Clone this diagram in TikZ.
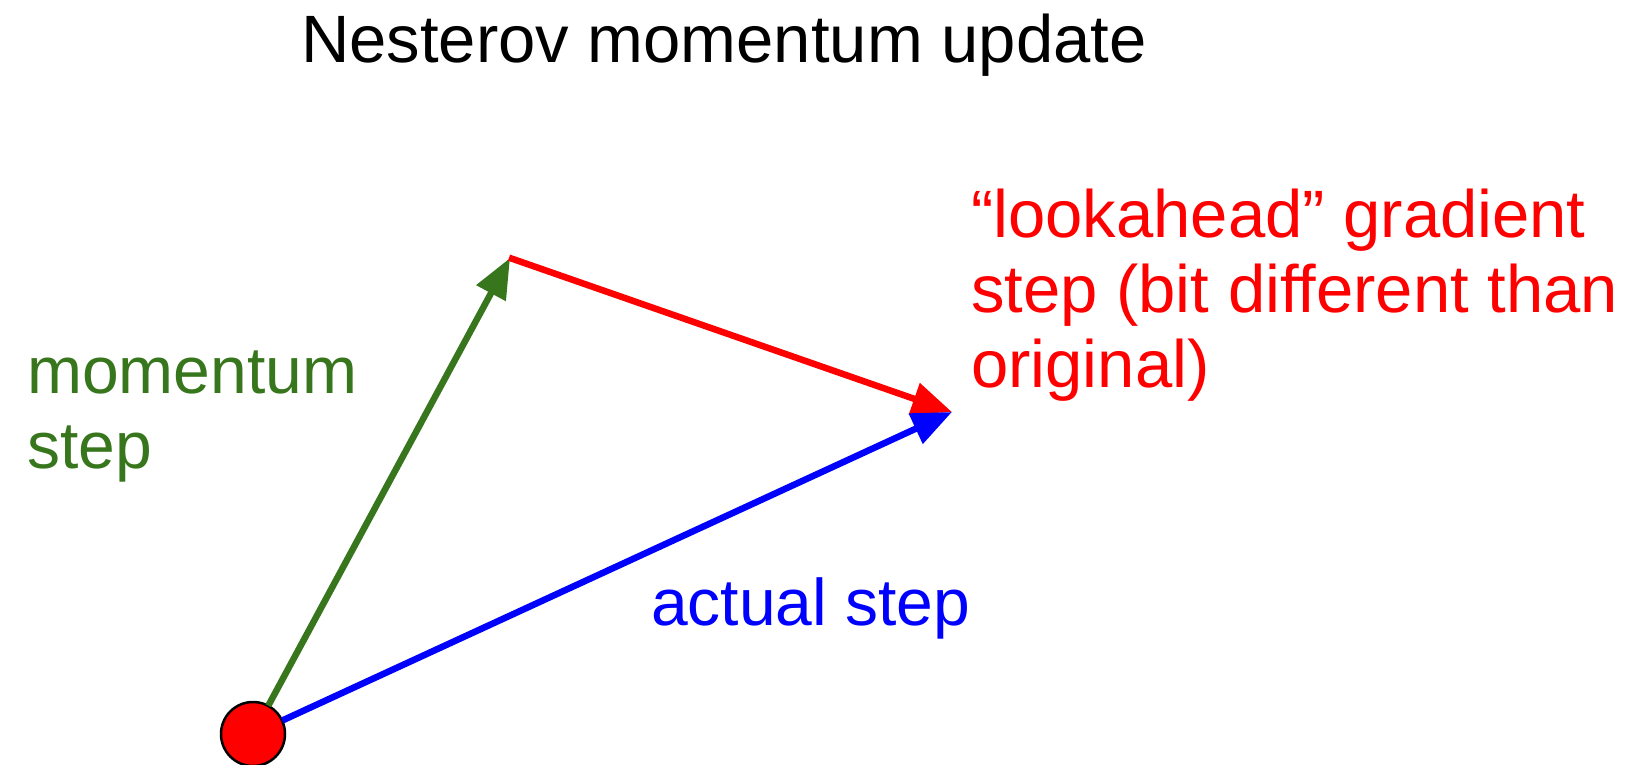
\documentclass[tikz,border=0pt]{standalone}
\usepackage{fontspec}
\setmainfont{Liberation Sans}
\usetikzlibrary{arrows.meta}
\definecolor{mgreen}{RGB}{56,118,29}
\begin{document}
\begin{tikzpicture}[x=1pt,y=-1pt,
  vec/.style={line width=6.5pt,-{Triangle[length=40pt,width=32pt]}, shorten <=-1pt},
  lbl/.style={inner sep=0pt,anchor=base west,align=left,font=\fontsize{66}{75}\selectfont},
  ttl/.style={inner sep=0pt,anchor=base west,font=\fontsize{67}{75}\selectfont}]
\useasboundingbox (0,0) rectangle (1644,765);
\fill[white] (0,0) rectangle (1644,765);
% points
\node[circle,draw=black,line width=2.5pt,fill=red,minimum size=64pt,inner sep=0pt] (start) at (253,734) {};
\coordinate (mid) at (510,258);
\coordinate (end) at (952,412);
% arrows
\draw[vec,mgreen] (start) -- (mid);
\draw[vec,red] (mid) -- (end);
\draw[vec,blue] (start) -- (end);
% texts (anchored at the baseline of the last line)
\node[ttl] (title) at (301,63) {Nesterov momentum update};
\node[lbl,text=red,font=\fontsize{67}{75}\selectfont] (look) at (971,387) {“lookahead” gradient\\step (bit different than\\original)};
\node[lbl,text=mgreen] (mom) at (27,468) {momentum\\step};
\node[lbl,text=blue] (act) at (651,625) {actual step};
\end{tikzpicture}
\end{document}
